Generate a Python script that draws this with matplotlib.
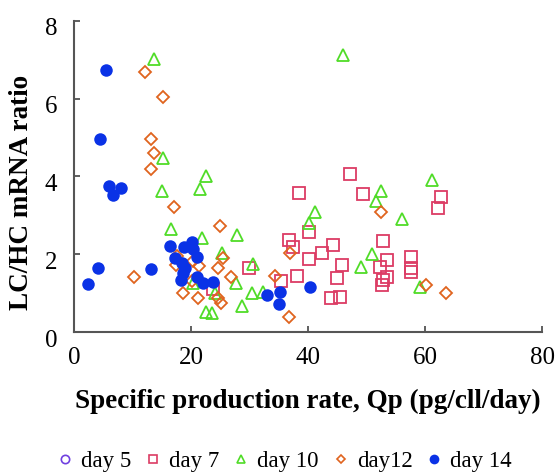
import matplotlib
matplotlib.use("Agg")
import matplotlib.pyplot as plt
import matplotlib.transforms as mtransforms
from matplotlib.lines import Line2D

plt.rcParams['font.family'] = ['Liberation Serif', 'DejaVu Serif']

# Data
day5_x = []
day5_y = []

day7_x = [47.2, 38.5, 49.4, 62.7, 62.2, 40.2, 36.8, 37.4, 44.3, 42.4, 40.2, 52.8, 53.5,
          45.8, 52.3, 57.6, 57.6, 57.6, 45.0, 38.1, 35.4, 53.5, 52.8, 52.6, 43.9, 45.5,
          29.9, 23.8]
day7_y = [4.06, 3.57, 3.55, 3.47, 3.19, 2.57, 2.37, 2.19, 2.24, 2.03, 1.88, 2.34, 1.85,
          1.72, 1.67, 1.93, 1.65, 1.54, 1.39, 1.44, 1.31, 1.41, 1.34, 1.21, 0.87, 0.90,
          1.65, 1.11]

day10_x = [13.7, 46.0, 15.2, 15.0, 22.6, 21.5, 16.6, 21.9, 27.9, 25.3, 30.6, 20.3, 27.7,
           24.1, 30.4, 32.3, 28.7, 22.6, 23.6, 41.2, 40.2, 61.2, 52.5, 51.6, 56.1, 50.9,
           49.1, 59.1]
day10_y = [7.02, 7.12, 4.47, 3.62, 4.01, 3.68, 2.65, 2.42, 2.49, 2.03, 1.75, 1.26, 1.26,
           1.00, 1.00, 1.03, 0.67, 0.51, 0.49, 3.08, 2.80, 3.91, 3.62, 3.37, 2.90, 2.01,
           1.67, 1.16]

day12_x = [12.1, 15.2, 13.2, 13.7, 13.2, 17.1, 25.0, 10.3, 17.6, 17.4, 20.3, 21.4, 20.2,
           18.6, 21.2, 24.6, 25.5, 26.8, 24.6, 25.1, 34.4, 36.9, 36.8, 52.5, 60.2, 63.6]
day12_y = [6.68, 6.04, 4.96, 4.60, 4.19, 3.21, 2.72, 1.41, 1.95, 1.72, 1.83, 1.70, 1.31,
           1.00, 0.87, 1.65, 1.90, 1.41, 0.87, 0.75, 1.44, 2.03, 0.39, 3.08, 1.21, 1.00]

day14_x = [5.5, 4.4, 6.0, 6.7, 8.0, 4.1, 2.4, 13.2, 16.4, 18.8, 20.2, 20.3, 21.0, 17.3,
           18.5, 19.0, 18.6, 18.3, 21.0, 22.1, 23.8, 33.0, 35.2, 35.0, 40.3]
day14_y = [6.73, 4.96, 3.75, 3.52, 3.70, 1.65, 1.23, 1.62, 2.21, 2.19, 2.31, 2.13, 1.93,
           1.90, 1.77, 1.65, 1.52, 1.34, 1.41, 1.26, 1.29, 0.95, 1.03, 0.72, 1.16]

x_ticks = [0, 20, 40, 60, 80]
y_ticks = [0, 2, 4, 6, 8]
labels = ['day 5', 'day 7', 'day 10', 'day12', 'day 14']

c5 = '#7040e0'
c7 = '#dc3c64'
c10 = '#50dc28'
c12 = '#e0641e'
c14 = '#0a32e6'

fig = plt.figure(figsize=(5.59, 4.73), dpi=100)
ax = fig.add_axes([0.132, 0.298, 0.838, 0.658])

ax.plot(day5_x, day5_y, 'o', ms=8, mfc='none', mec=c5, mew=1.3, linestyle='none')
ax.plot(day7_x, day7_y, 's', ms=9, mfc='none', mec=c7, mew=1.3, linestyle='none')
ax.plot(day10_x, day10_y, '^', ms=9, mfc='none', mec=c10, mew=1.3, linestyle='none')
ax.plot(day12_x, day12_y, 'D', ms=6.5, mfc='none', mec=c12, mew=1.3, linestyle='none')
ax.plot(day14_x, day14_y, 'o', ms=9, mfc=c14, mec=c14, mew=0, linestyle='none')

ax.set_xlim(0, 80)
ax.set_ylim(0, 8)
ax.set_xticks(x_ticks)
ax.set_yticks(y_ticks)
ax.tick_params(direction='in', length=4, width=1.2, labelsize=18, colors='#444444',
               labelcolor='black')
ax.tick_params(axis='x', pad=11)
ax.tick_params(axis='y', pad=12)
offset = mtransforms.ScaledTranslation(0, -6 / 100, fig.dpi_scale_trans)
for lab in ax.get_yticklabels():
    lab.set_transform(lab.get_transform() + offset)

for s in ['top', 'right']:
    ax.spines[s].set_visible(False)
for s in ['left', 'bottom']:
    ax.spines[s].set_color('#555555')
    ax.spines[s].set_linewidth(1.5)

ax.set_xlabel('Specific production rate, Qp (pg/cll/day)', fontsize=19.5,
              fontweight='bold', labelpad=14)
ax.set_ylabel('LC/HC mRNA ratio', fontsize=19.5, fontweight='bold')
ax.yaxis.set_label_coords(-0.086, 0.447)

handles = [
    Line2D([], [], marker='o', ms=6, mfc='none', mec=c5, mew=1.2, linestyle='none'),
    Line2D([], [], marker='s', ms=6, mfc='none', mec=c7, mew=1.2, linestyle='none'),
    Line2D([], [], marker='^', ms=6, mfc='none', mec=c10, mew=1.2, linestyle='none'),
    Line2D([], [], marker='D', ms=4.5, mfc='none', mec=c12, mew=1.2, linestyle='none'),
    Line2D([], [], marker='o', ms=7, mfc=c14, mec=c14, mew=0, linestyle='none'),
]
fig.legend(handles, labels, loc='center', bbox_to_anchor=(0.508, 0.024), ncol=5,
           frameon=False, fontsize=16.5, handlelength=0.8, handletextpad=0.3,
           columnspacing=0.55)

fig.savefig('out.png', dpi=100)
